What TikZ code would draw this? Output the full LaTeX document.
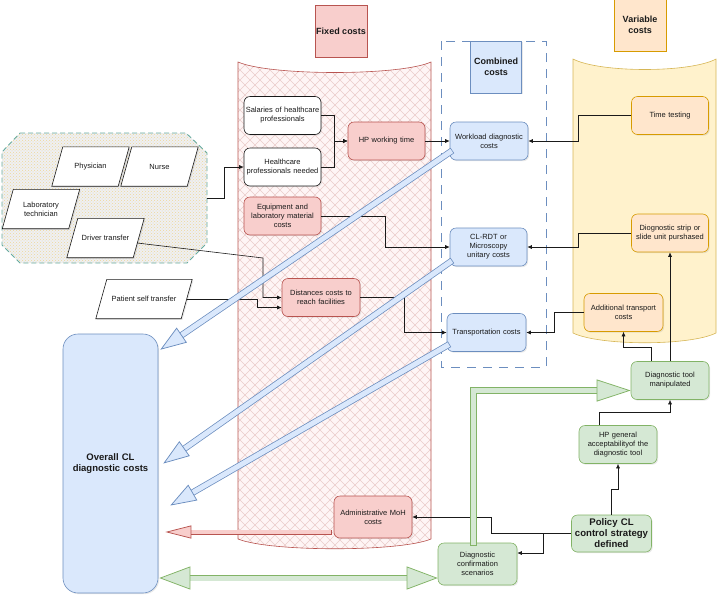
\documentclass[tikz,border=0pt]{standalone}
\usepackage{fontspec}
\setmainfont{Liberation Sans}
\usetikzlibrary{arrows.meta,shadows,patterns,backgrounds}
\definecolor{ink}{HTML}{1A1A1A}
\definecolor{rosefill}{HTML}{F8CECC}
\definecolor{roseline}{HTML}{B85450}
\definecolor{skyfill}{HTML}{DAE8FC}
\definecolor{skyline}{HTML}{6C8EBF}
\definecolor{peachfill}{HTML}{FFE6CC}
\definecolor{peachline}{HTML}{D79B00}
\definecolor{sandfill}{HTML}{FFF2CC}
\definecolor{sandline}{HTML}{D6B656}
\definecolor{leaffill}{HTML}{D5E8D4}
\definecolor{leafline}{HTML}{82B366}
\definecolor{tealline}{HTML}{67AB9F}
\definecolor{grain}{HTML}{EEF0F3}
\pgfdeclarelayer{plates}
\pgfsetlayers{background,plates,main}

\begin{document}
\begin{tikzpicture}[x=1pt,y=-1pt,
  every node/.style={font=\fontsize{7.5}{9}\selectfont,text=ink},
  shade/.style={drop shadow={opacity=0.18,shadow xshift=1.2pt,shadow yshift=-1.2pt}},
  box/.style={rounded corners=6pt,align=center,inner sep=1pt,text width=75pt,minimum width=77pt,minimum height=38pt,line width=0.6pt,shade},
  fixbox/.style={box,fill=rosefill,draw=roseline},
  combox/.style={box,fill=skyfill,draw=skyline},
  varbox/.style={box,fill=peachfill,draw=peachline},
  polbox/.style={box,fill=leaffill,draw=leafline},
  plainbox/.style={box,fill=white,draw=ink},
  heading/.style={draw,line width=0.6pt,inner sep=0pt,minimum width=52pt,minimum height=52pt,align=center,font=\bfseries\fontsize{9}{11}\selectfont,shade},
  actor/.style={inner sep=1pt,minimum width=77pt,minimum height=39pt,align=center},
  plate/.style={draw=ink,fill=white,line width=0.6pt,shade},
  link/.style={-{Latex[length=4.5pt,width=4pt]},line width=0.6pt,ink},
  flow/.style={line width=0.75pt,line cap=rect,draw=#1line,double=#1fill,double distance=5pt,-{Triangle[length=26pt,width=18pt,fill=#1fill,line width=0.75pt]}},
  hatch/.style={roseline!30,line width=0.5pt}]
  \useasboundingbox (0,0) rectangle (720,598);

  % containers
  \begin{pgfonlayer}{background}
  \fill[rosefill!20] (238,62) .. controls (270,76) and (400,76) .. (431,62) -- (431,539) .. controls (400,552) and (270,552) .. (238,539) -- cycle;
  \begin{scope}
    \clip (238,62) .. controls (270,76) and (400,76) .. (431,62) -- (431,539) .. controls (400,552) and (270,552) .. (238,539) -- cycle;
    \foreach \i in {-280,-270,...,440}
      \draw[hatch] (\i,50) -- ++(510,510);
    \foreach \i in {230,240,...,950}
      \draw[hatch] (\i,50) -- ++(-510,510);
  \end{scope}
  \draw[roseline,line width=0.6pt] (238,62) .. controls (270,76) and (400,76) .. (431,62) -- (431,539) .. controls (400,552) and (270,552) .. (238,539) -- cycle;
  \draw[sandline,fill=sandfill,line width=0.6pt] (573,59) .. controls (600,73) and (690,73) .. (716,59) -- (716,333) .. controls (690,346) and (600,346) .. (573,333) -- cycle;
  \draw[skyline,line width=0.9pt,dash pattern=on 9pt off 7pt] (441,41) rectangle (546,367);
  \draw[tealline,line width=0.9pt,dash pattern=on 5pt off 3pt,preaction={fill=grain},pattern=crosshatch dots,pattern color=peachline!40]
    (20,133) -- (186,133) -- (207,153) -- (207,243) -- (187,263) -- (20,263) -- (2,245) -- (2,152) -- cycle;
  \end{pgfonlayer}
  \coordinate (grp) at (207,198);

  % headings
  \node[heading,fill=rosefill,draw=roseline] (fixlbl) at (341,31) {Fixed costs};
  \node[heading,fill=skyfill,draw=skyline,minimum width=51pt] (comblbl) at (496,67) {Combined\\costs};
  \node[heading,fill=peachfill,draw=peachline] (varlbl) at (640,25) {Variable\\costs};

  % people
  \node[actor] (phys) at (90.5,166.5) {Physician};
  \node[actor] (nurse) at (159.5,166.5) {Nurse};
  \node[actor] (labt) at (41,209) {Laboratory\\technician};
  \node[actor] (driver) at (105.5,238) {Driver transfer};
  \node[actor,minimum width=96pt] (patient) at (144,299) {Patient self transfer};
  \begin{pgfonlayer}{plates}
  \foreach \n in {phys,nurse,labt,driver,patient}
    \draw[plate] ([xshift=11pt]\n.north west) -- (\n.north east) -- ([xshift=-11pt]\n.south east) -- (\n.south west) -- cycle;
  \end{pgfonlayer}

  % fixed costs
  \node[plainbox] (sal) at (282.5,115.5) {Salaries of healthcare\\professionals};
  \node[plainbox] (hpn) at (282.5,167) {Healthcare\\professionals needed};
  \node[fixbox] (hpw) at (386.5,141) {HP working time};
  \node[fixbox] (equip) at (282.5,216) {Equipment and\\laboratory material\\costs};
  \node[fixbox,minimum width=78pt] (dist) at (321,297.5) {Distances costs to\\reach facilities};
  \node[fixbox,minimum width=78pt,minimum height=42pt] (adm) at (373,517) {Administrative MoH\\costs};

  % combined costs
  \node[combox,minimum width=78pt] (wl) at (489,141) {Workload diagnostic\\costs};
  \node[combox] (cl) at (488.5,247) {CL-RDT or\\Microscopy\\unitary costs};
  \node[combox,minimum width=79pt] (tr) at (486.5,332.5) {Transportation costs};

  % variable costs
  \node[varbox] (tt) at (670,115.5) {Time testing};
  \node[varbox] (strip) at (670,233) {Diognostic strip or\\slide unit purshased};
  \node[varbox,minimum width=79pt] (addt) at (623.5,312.5) {Additional transport\\costs};

  % policy side
  \node[polbox,minimum width=78pt] (tool) at (670,380.5) {Diagnostic tool\\manipulated};
  \node[polbox,minimum width=78pt] (accept) at (618,444.5) {HP general\\acceptabilityof the\\diagnostic tool};
  \node[polbox,minimum height=37pt,inner sep=0pt,text width=80pt,font=\bfseries\fontsize{9.6}{11}\selectfont] (policy) at (611.5,533.5) {Policy CL\\control strategy\\defined};
  \node[polbox,minimum width=79pt,minimum height=42pt] (conf) at (477.5,564) {Diagnostic\\confirmation\\scenarios};
  \node[combox,minimum width=95pt,minimum height=259pt,text width=90pt,rounded corners=15pt,font=\bfseries\fontsize{9.5}{11.5}\selectfont] (ov) at (110.5,463.5) {Overall CL\\diagnostic costs};

  % thin links
  \draw[link] (grp) -- ++(17,0) |- (hpn.west);
  \draw[link] (sal.east) -- ++(13,0) |- (hpw.west);
  \draw[link] (hpn.east) -- ++(13,0) |- (hpw.west);
  \draw[link] (hpw) -- (wl);
  \draw[link] (equip.east) -- ++(64,0) |- (cl.west);
  \draw[link] ([xshift=-7pt,yshift=-5pt]driver.east) -- (263,258) |- (dist.west);
  \draw[link] ([xshift=-5pt]patient.east) -- (257,299) |- ([yshift=-10pt]dist.west);
  \draw[link] (dist.east) -- ++(44,0) |- (tr.west);
  \draw[link] (tt.west) -- ++(-53,0) |- (wl.east);
  \draw[link] (strip.west) -- ++(-53,0) |- (cl.east);
  \draw[link] (addt.west) -- ++(-29,0) |- (tr.east);
  \draw[link] ([xshift=-19pt]tool.north) -- ++(0,-14) -| (addt.south);
  \draw[link] (tool.north) -- (strip.south);
  \draw[link] ([xshift=-19pt]accept.north) -- ++(0,-13) -| (tool.south);
  \draw[link] (policy.north) -- ++(0,-25) -| (accept.south);
  \draw[link] (policy.west) -- ++(-80,0) |- (adm.east);
  \draw[link] (policy.west) -- ++(-28,0) |- ([yshift=11pt]conf.east);

  % wide flows
  \draw[flow=sky] ([yshift=8pt]wl.south west) -- ([xshift=2pt,yshift=-16pt]ov.north east);
  \draw[flow=sky] ([yshift=4pt]cl.south west) -- ([xshift=5pt]ov.east);
  \draw[flow=sky] ([yshift=6pt]tr.south west) -- ([xshift=12pt,yshift=-42pt]ov.east);
  \draw[flow=rose,double distance=3.5pt,-{Triangle[length=26pt,width=13pt,fill=rosefill,line width=0.75pt]}] ([xshift=-4pt,yshift=-15pt]adm.west) -- ([xshift=7pt,yshift=-15pt]ov.east |- adm.west);
  \draw[flow=leaf,{Triangle[length=31pt,width=23pt,fill=leaffill,line width=0.75pt]}-{Triangle[length=31pt,width=23pt,fill=leaffill,line width=0.75pt]}] ([xshift=1pt,yshift=-14pt]ov.east |- conf.west) -- ([yshift=-14pt]conf.west);
  \draw[flow=leaf,-{Triangle[length=34pt,width=22pt,fill=leaffill,line width=0.75pt]}] ([xshift=-4pt]conf.north) |- ([yshift=-10pt]tool.west);
\end{tikzpicture}
\end{document}
